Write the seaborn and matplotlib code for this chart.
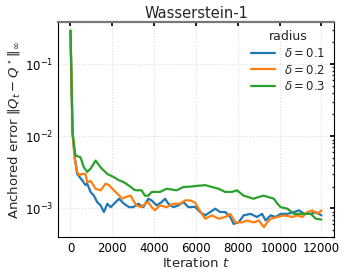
import numpy as np
import pandas as pd
import matplotlib
matplotlib.use('Agg')
import matplotlib.pyplot as plt
import seaborn as sns

t_01 = [0, 100, 200, 320, 560, 720, 800, 960, 1120, 1280,
        1440, 1600, 1760, 1920, 2160, 2320, 2560, 2800, 3000, 3240,
        3480, 3720, 3880, 4120, 4360, 4520, 4680, 4920, 5160, 5400,
        5640, 5960, 6200, 6440, 6680, 6920, 7160, 7400, 7640, 7800,
        8040, 8280, 8600, 8920, 9160, 9330, 9570, 9810, 10050, 10370,
        10690, 10930, 11170, 11490, 11730, 12000]
e_01 = [290, 11, 5.2, 3.0, 2.45, 2.1, 2.2, 1.69, 1.5, 1.22,
        1.1, 0.89, 1.16, 1.04, 1.22, 1.36, 1.16, 1.04, 1.04, 1.16,
        1.04, 1.36, 1.29, 1.1, 1.22, 1.36, 1.16, 1.04, 1.1, 1.22,
        1.04, 1.05, 0.89, 0.8, 0.89, 0.99, 0.89, 0.89, 0.76, 0.61,
        0.64, 0.8, 0.84, 0.76, 0.84, 0.68, 0.8, 0.76, 0.84, 0.84,
        0.89, 0.94, 0.84, 0.84, 0.89, 0.8]

t_02 = [0, 100, 200, 320, 400, 560, 720, 800, 960, 1200,
        1440, 1680, 1840, 2000, 2240, 2480, 2640, 2880, 3000, 3160,
        3400, 3560, 3720, 3880, 4040, 4280, 4600, 4920, 5240, 5480,
        5720, 5960, 6170, 6440, 6760, 7080, 7400, 7640, 7880, 8200,
        8440, 8760, 9000, 9250, 9410, 9570, 9890, 10210, 10610, 10850,
        11090, 11330, 11570, 11810, 12000]
e_02 = [290, 11, 5.0, 3.2, 2.9, 3.0, 3.0, 2.3, 2.4, 1.87,
        1.78, 2.2, 2.1, 1.87, 1.6, 1.36, 1.44, 1.5, 1.29, 1.1,
        1.04, 1.16, 1.22, 1.04, 0.94, 1.1, 1.04, 1.16, 1.16, 1.29,
        1.29, 1.2, 0.94, 0.72, 0.8, 0.72, 0.76, 0.84, 0.64, 0.64,
        0.68, 0.64, 0.68, 0.55, 0.64, 0.72, 0.76, 0.8, 0.76, 0.8,
        0.76, 0.89, 0.94, 0.84, 0.94]

t_03 = [0, 100, 240, 480, 640, 800, 960, 1200, 1440, 1760,
        2080, 2320, 2560, 2880, 3040, 3160, 3400, 3560, 3720, 3880,
        4280, 4600, 5080, 5400, 5720, 6040, 6440, 6760, 7080, 7400,
        7720, 7960, 8280, 8760, 9000, 9240, 9730, 9890, 10050, 10370,
        10690, 11100, 11490, 11730, 12000]
e_03 = [290, 11, 5.4, 5.1, 3.7, 3.2, 3.55, 4.6, 3.7, 3.0,
        2.7, 2.45, 2.3, 1.98, 1.82, 1.78, 1.78, 1.5, 1.5, 1.69,
        1.69, 1.87, 1.78, 1.98, 2.0, 2.05, 2.1, 1.98, 1.87, 1.69,
        1.69, 1.78, 1.5, 1.36, 1.44, 1.5, 1.36, 1.16, 1.04, 0.99,
        0.84, 0.84, 0.84, 0.72, 0.70]

labels = [r'$\delta=0.1$', r'$\delta=0.2$', r'$\delta=0.3$']
xticks = [0, 2000, 4000, 6000, 8000, 10000, 12000]

df = pd.concat([
    pd.DataFrame({'t': t_01, 'err': np.array(e_01) * 1e-3, 'radius': labels[0]}),
    pd.DataFrame({'t': t_02, 'err': np.array(e_02) * 1e-3, 'radius': labels[1]}),
    pd.DataFrame({'t': t_03, 'err': np.array(e_03) * 1e-3, 'radius': labels[2]}),
])

sns.set_theme(style='white')
plt.rcParams['font.family'] = ['DejaVu Sans']

fig = plt.figure(figsize=(3.49, 2.77), dpi=100)
ax = fig.add_axes([0.166, 0.144, 0.791, 0.776])
sns.lineplot(data=df, x='t', y='err', hue='radius', palette='tab10', lw=1.6, ax=ax)

ax.set_yscale('log')
ax.set_ylim(4e-4, 0.38)
ax.set_xticks(xticks)
ax.grid(True, which='major', linestyle=':', color='#dddddd', lw=0.8)
ax.tick_params(direction='in', top=True, right=True, labelsize=8.5, length=3,
               colors='black')
ax.tick_params(which='minor', direction='in', top=True, right=True, length=1.5)
for s in ax.spines.values():
    s.set_color('black')
    s.set_linewidth(0.8)
ax.spines['top'].set_color('#777777')
ax.spines['top'].set_linewidth(1.6)

ax.set_title('Wasserstein-1', fontsize=10.5, pad=3)
ax.set_xlabel(r'Iteration $t$', fontsize=9.5, labelpad=1)
ax.set_ylabel(r'Anchored error $\|Q_t - Q^\star\|_\infty$', fontsize=9.5, labelpad=2)
ax.legend(title='radius', frameon=False, fontsize=8.5, title_fontsize=9,
          loc='upper right', handlelength=2.0, borderaxespad=0.3, labelspacing=0.3)

fig.savefig('out.png', dpi=100)
